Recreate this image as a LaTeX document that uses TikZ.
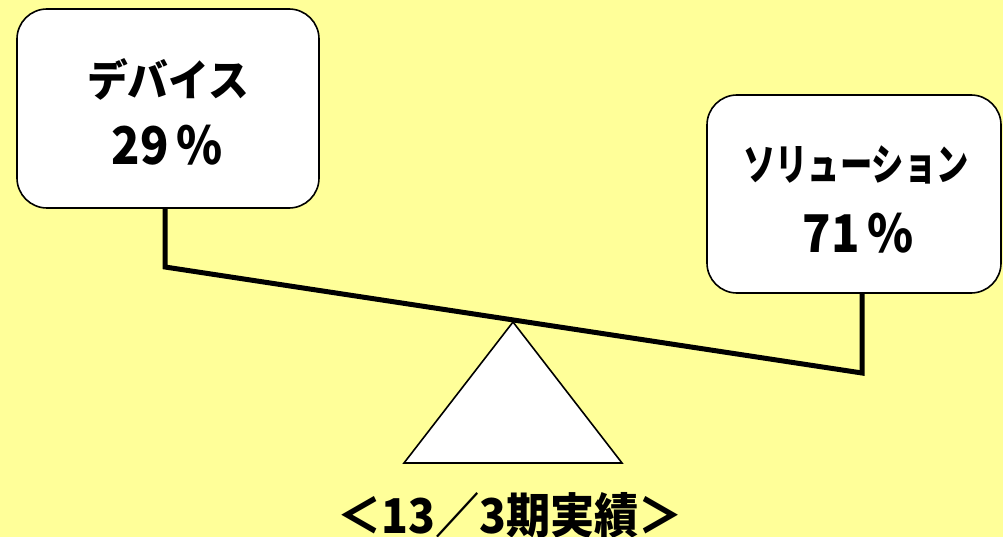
\documentclass[tikz,border=0pt]{standalone}
\usepackage{fontspec}
\newfontfamily\jp{Noto Sans CJK JP}
\definecolor{bg}{HTML}{FFFF99}
\begin{document}
\begin{tikzpicture}[x=1pt,y=-1pt,
  box/.style={draw=black,line width=1.6pt,fill=white,rounded corners=30pt,inner sep=0pt},
  kana/.style={font=\jp\bfseries\fontsize{42}{50}\selectfont,inner sep=0pt},
  num/.style={font=\jp\bfseries\fontsize{52}{60}\selectfont,inner sep=0pt},
  beam/.style={line width=5pt,line join=miter}]
\fill[bg] (0,0) rectangle (1003,537);
\useasboundingbox (0,0) rectangle (1003,537);
\node[box,minimum width=302pt,minimum height=199pt] (L) at (168,108.5) {};
\node[box,minimum width=294pt,minimum height=198pt] (R) at (854,194) {};
\node[kana] (Lt1) at (168,79) {\scalebox{0.97}[1.03]{デバイス}};
\node[num] (Lt2) at (167,145) {\scalebox{0.9}[1]{29\,\%}};
\node[kana] (Rt1) at (856,165) {\scalebox{0.77}[1.03]{ソリューション}};
\node[num] (Rt2) at (858,233) {\scalebox{0.9}[1]{71\,\%}};
\coordinate (LB) at (165,267);
\coordinate (RB) at (862,373);
\draw[beam] (L.south -| LB) -- (LB) -- (RB) -- (R.south -| RB);
\draw[line width=1.6pt,fill=white,line join=miter] (513,322) -- (622,463) -- (404,463) -- cycle;
\node[font=\jp\bfseries\fontsize{48}{56}\selectfont,inner sep=0pt] (cap) at (510,515) {\scalebox{0.92}[1]{＜13／3期実績＞}};
\end{tikzpicture}
\end{document}
